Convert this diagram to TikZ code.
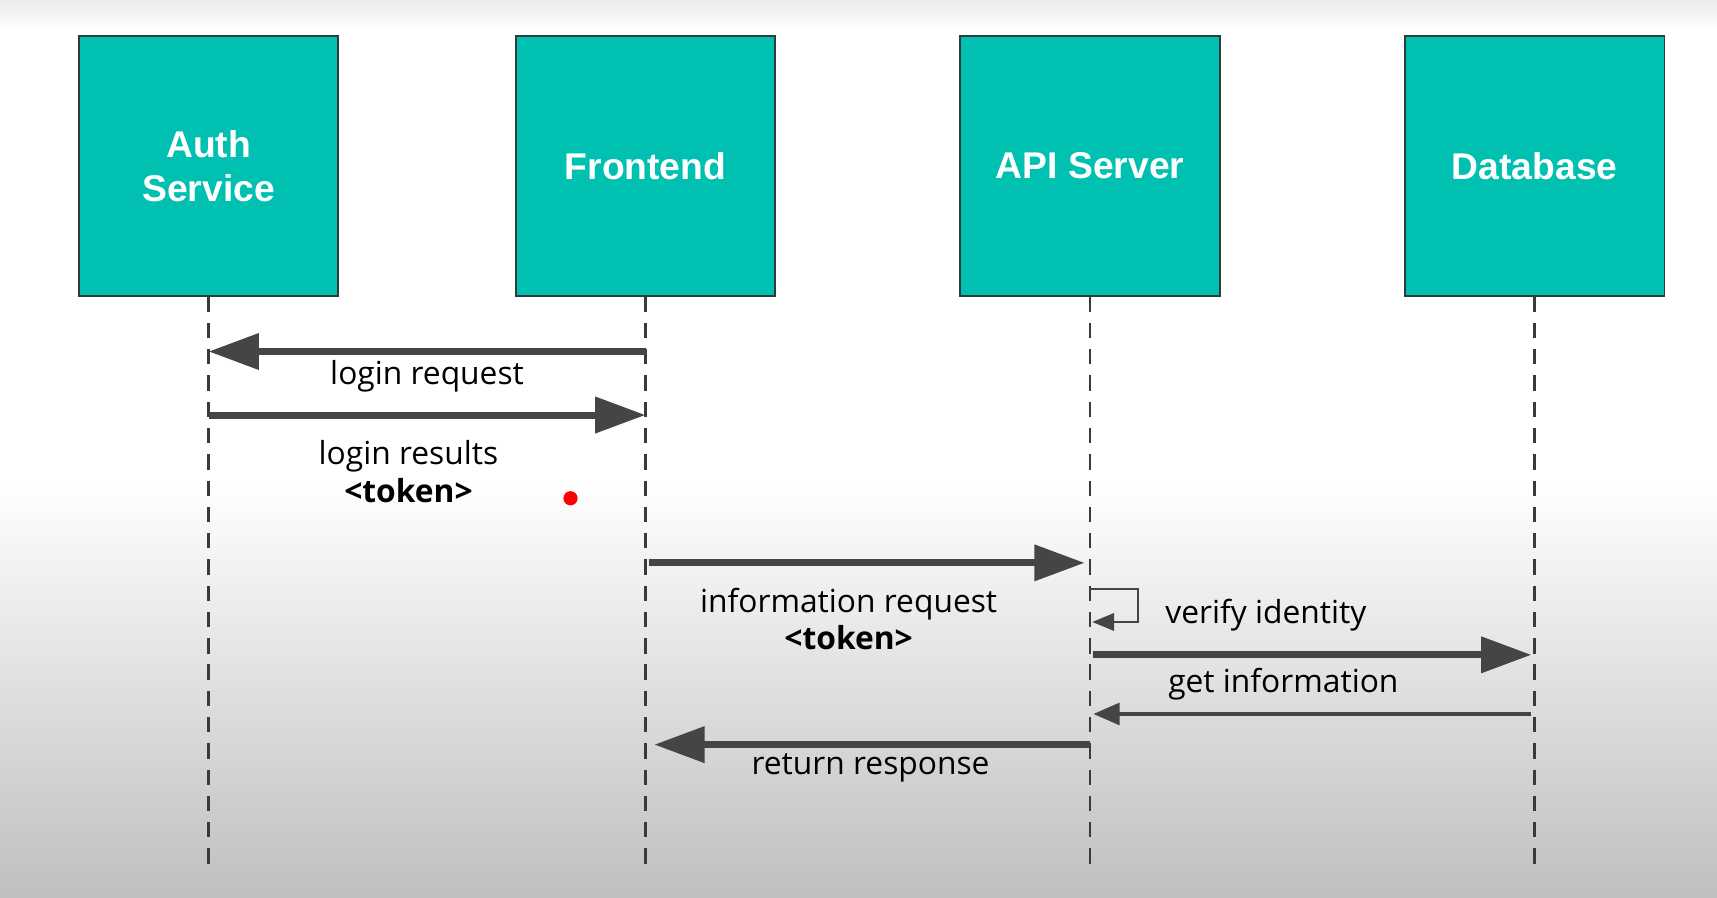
\documentclass[tikz,border=0pt]{standalone}
\usepackage{fontspec}
\setmainfont{Open Sans}
\newfontfamily\boxfont{Liberation Sans}
\usetikzlibrary{arrows.meta,calc}
\definecolor{teal1}{HTML}{00C1B1}
\definecolor{boxline}{HTML}{2F3B3A}
\definecolor{arr}{HTML}{454545}
\definecolor{life}{HTML}{3A3A3A}
\tikzset{
  actor/.style={draw=boxline,line width=0.8pt,fill=teal1,minimum width=118.5pt,minimum height=118.5pt,
    inner sep=0pt,align=center,text=white,font=\boxfont\bfseries\fontsize{17}{20}\selectfont},
  lifeline/.style={draw=life,line width=1.25pt,dash pattern=on 7pt off 5pt},
  bigarrow/.style={draw=arr,line width=3.2pt,-{Triangle[length=23pt,width=16pt]}},
  thinarrow/.style={draw=arr,line width=1.5pt,-{Triangle[length=12pt,width=10pt]}},
  looparrow/.style={draw=arr,line width=1pt,-{Triangle[length=10pt,width=8pt]}},
  msg/.style={font=\fontsize{14.5}{17}\selectfont,align=center,inner sep=0pt,text=black,yshift=-1.3pt}
}
\begin{document}
\begin{tikzpicture}[x=0.5pt,y=-0.5pt]
\useasboundingbox (0,0) rectangle (1568,820);
\fill[white] (0,0) rectangle (1568,820);
\shade[top color=black!8,bottom color=white] (0,0) rectangle (1568,28);
\shade[top color=white,bottom color=black!25] (0,440) rectangle (1568,820);

\node[actor] (auth) at (190.5,151.5) {Auth\\Service};
\node[actor] (fe) at (589.5,151.5) {Frontend};
\node[actor] (api) at (995.5,151.5) {API Server};
\node[actor] (db) at (1401.5,151.5) {Database};

\coordinate (bot) at (0,795);
\foreach \n in {auth,fe,api,db}{
  \draw[lifeline] (\n.south) -- (\n |- bot);
}

\coordinate (r1) at (0,321);
\coordinate (r2) at (0,379);
\coordinate (r3) at (0,514);
\coordinate (r4) at (0,598);
\coordinate (r5) at (0,652);
\coordinate (r6) at (0,680);
\coordinate (l1) at (0,538);
\coordinate (l2) at (0,568);

\draw[bigarrow] (fe |- r1) -- (auth |- r1);
\draw[bigarrow] (auth |- r2) -- (fe |- r2);
\draw[bigarrow] ([xshift=1.5pt]fe |- r3) -- ([xshift=-2.5pt]api |- r3);
\draw[looparrow] (api |- l1) -- ++(44,0) -- ++(0,30) -- ([xshift=1pt]api |- l2);
\draw[bigarrow] ([xshift=1.5pt]api |- r4) -- ([xshift=-1.5pt]db |- r4);
\draw[thinarrow] ([xshift=-1.5pt]db |- r5) -- ([xshift=1.5pt]api |- r5);
\draw[bigarrow] (api |- r6) -- ([xshift=4pt]fe |- r6);

\node[msg] (m1) at (390,341) {login request};
\node[msg] (m2) at (373,428) {login results\\\textbf{<token>}};
\node[msg] (m3) at (775,563) {information request\\\textbf{<token>}};
\node[msg] (m4) at (1156,559) {verify identity};
\node[msg] (m5) at (1172,622) {get information};
\node[msg] (m6) at (795,699) {return response};

\node[circle,fill=red,inner sep=0pt,minimum size=6.5pt] (dot) at (521,455) {};
\end{tikzpicture}
\end{document}
